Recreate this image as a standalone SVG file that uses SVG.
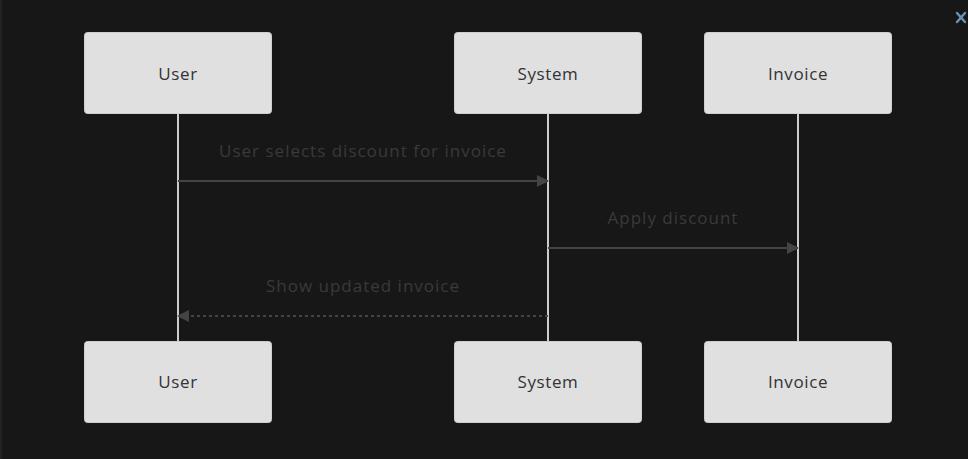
<svg xmlns="http://www.w3.org/2000/svg" width="968" height="459" viewBox="0 0 968 459">
<style>
.actor{fill:#e0e0e0;stroke:#cfcfcf;stroke-width:1}
.alabel{font-family:"Open Sans","DejaVu Sans",sans-serif;font-size:17px;letter-spacing:0.6px;fill:#333;text-anchor:middle;dominant-baseline:central}
.life{stroke:#cccccc;stroke-width:2}
.msg{stroke:#444;stroke-width:2;fill:none}
.dash{stroke-dasharray:3,3}
.mlabel{font-family:"Open Sans","DejaVu Sans",sans-serif;font-size:17px;letter-spacing:1px;fill:#3a3a3a;text-anchor:middle}
</style>
<defs>
<marker id="arrow" viewBox="0 0 12 12" refX="11" refY="6" markerWidth="12" markerHeight="12" markerUnits="userSpaceOnUse" orient="auto">
<path d="M0,0 L12,6 L0,12 z" fill="#444"/>
</marker>
</defs>
<rect width="968" height="459" fill="#171717"/>
<line x1="1" y1="0" x2="1" y2="459" stroke="#222" stroke-width="2"/>
<g id="close" stroke="#6b8fba" stroke-width="2.5" stroke-linecap="round">
<line x1="957" y1="13" x2="965" y2="22"/>
<line x1="965" y1="13" x2="957" y2="22"/>
</g>
<g id="lifelines">
<line class="life" x1="178" y1="113" x2="178" y2="341"/>
<line class="life" x1="548" y1="113" x2="548" y2="341"/>
<line class="life" x1="798" y1="113" x2="798" y2="341"/>
</g>
<g id="user-top"><rect class="actor" x="84.5" y="32.5" width="187" height="81" rx="3"/><text class="alabel" x="178" y="73">User</text></g>
<g id="system-top"><rect class="actor" x="454.5" y="32.5" width="187" height="81" rx="3"/><text class="alabel" x="548" y="73">System</text></g>
<g id="invoice-top"><rect class="actor" x="704.5" y="32.5" width="187" height="81" rx="3"/><text class="alabel" x="798" y="73">Invoice</text></g>
<g id="user-bottom"><rect class="actor" x="84.5" y="341.5" width="187" height="81" rx="3"/><text class="alabel" x="178" y="381">User</text></g>
<g id="system-bottom"><rect class="actor" x="454.5" y="341.5" width="187" height="81" rx="3"/><text class="alabel" x="548" y="381">System</text></g>
<g id="invoice-bottom"><rect class="actor" x="704.5" y="341.5" width="187" height="81" rx="3"/><text class="alabel" x="798" y="381">Invoice</text></g>
<g id="connectors">
<line class="msg" x1="178" y1="181" x2="548" y2="181" marker-end="url(#arrow)"/>
<text class="mlabel" x="363" y="157">User selects discount for invoice</text>
<line class="msg" x1="548" y1="248" x2="798" y2="248" marker-end="url(#arrow)"/>
<text class="mlabel" x="673" y="224">Apply discount</text>
<line class="msg dash" x1="548" y1="316" x2="178" y2="316" marker-end="url(#arrow)"/>
<text class="mlabel" x="363" y="292">Show updated invoice</text>
</g>
</svg>
